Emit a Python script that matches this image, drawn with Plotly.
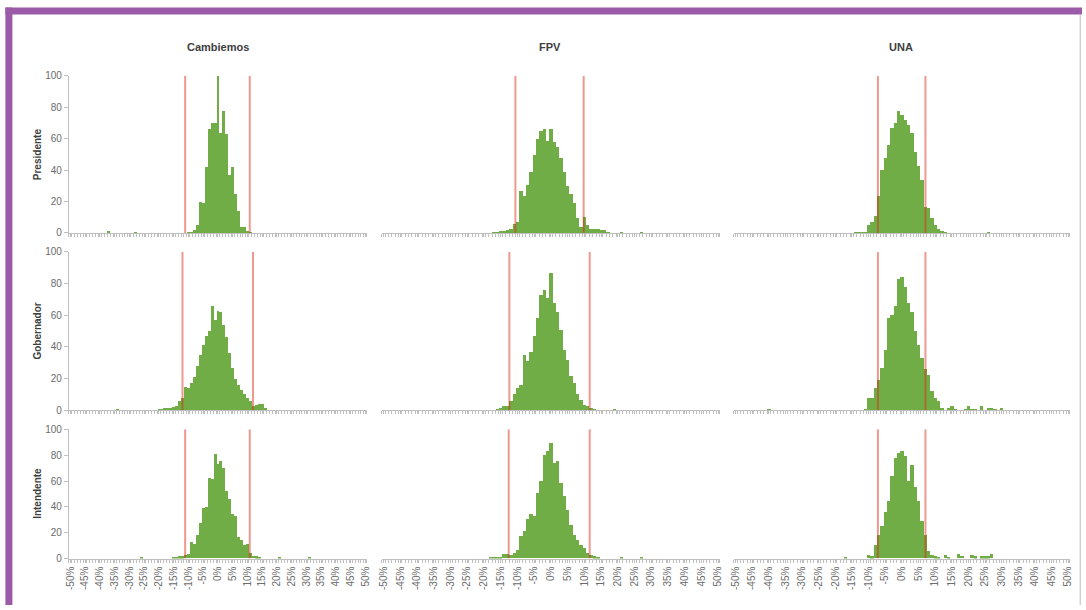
import plotly.graph_objects as go

W, H = 1086, 610

# ---------------- data ----------------
parties = ["Cambiemos", "FPV", "UNA"]
offices = ["Presidente", "Gobernador", "Intendente"]
bins = list(range(-50, 51))                      # 1% bins, -50% .. 50%
tick_vals = list(range(-50, 51, 5))
tick_text = [f"{v}%" for v in tick_vals]
y_ticks = [0, 20, 40, 60, 80, 100]

# Presidente
pres_camb_start = -10
pres_camb = [0.5, 1, 2, 5, 20, 19, 42, 66, 70, 70, 100, 64, 78, 63, 37, 42, 25, 14, 4, 4, 1.5, 1]
pres_camb_extra = {-37: 1.5, -28: 1}
pres_fpv_start = -17
pres_fpv = [0.5, 0.5, 1.5, 1.5, 2, 3, 6, 7, 27, 24, 31, 39, 50, 60, 65, 66, 59, 66, 58, 55, 48,
            39, 30, 25, 19, 9.5, 4, 10.6, 5, 3, 3, 2.5, 2, 2, 1]
pres_fpv_extra = {21: 0.5, 27: 0.5}
pres_una_start = -14
pres_una = [0.5, 0.3, 1, 1, 5, 7, 11, 24, 40, 48, 56, 67, 70, 78, 75, 72, 69, 64, 52, 43, 34,
            17, 16, 9.5, 5, 3, 1.5, 1]
pres_una_extra = {26: 0.5}

# Gobernador
gob_camb_start = -20
gob_camb = [1, 0.5, 1.5, 1.5, 1.5, 2, 2.5, 6, 8, 15, 14, 17, 21, 28, 35, 41, 47, 50, 66, 57, 63,
            62, 54, 46, 36, 27, 20, 16, 13, 10, 8, 5.7, 2.5, 3.6, 4, 4, 1.5]
gob_camb_extra = {-34: 1}
gob_fpv_start = -16
gob_fpv = [1, 1.5, 2.5, 2.5, 5.7, 10, 14, 16, 35, 31, 37, 47, 58, 73, 76, 71, 87, 68, 62, 51, 38,
           32, 21.5, 17, 10, 6.8, 3.6, 2.5, 1.5, 1]
gob_fpv_extra = {19: 0.5}
gob_una_start = -11
gob_una = [0.5, 8, 8, 14, 19, 27, 38, 58, 60, 66, 83, 84, 78, 68, 62, 50, 41, 33, 26, 22, 12, 8,
           5.7, 1.5]
gob_una_extra = {-40: 0.5, 14: 1.5, 15: 2.5, 16: 1, 19: 0.5, 20: 2.5, 21: 1, 22: 1, 24: 2.5,
                 26: 1.5, 27: 1.5, 28: 1, 30: 1.5}

# Intendente
int_camb_start = -15
int_camb = [0.8, 0.8, 1.5, 1.5, 2.8, 3, 12.4, 11, 18, 27, 39, 40, 62, 61, 81, 73, 75, 70, 52, 46,
            34, 33, 16.5, 14, 10, 11, 4.4, 1.8, 1.5, 0.5]
int_camb_extra = {-26: 0.5, 21: 0.5, 31: 0.5}
int_fpv_start = -18
int_fpv = [0.5, 0.5, 0.3, 0.3, 3.4, 3.4, 2.8, 4, 6.7, 17, 21, 30, 34, 32.5, 50.6, 59.7, 80, 83, 89,
           74, 75, 58, 48, 37.7, 26, 18, 14.5, 10.6, 8, 4, 2.8, 1.5, 1]
int_fpv_extra = {21: 0.5, 27: 0.5}
int_una_start = -10
int_una = [2.8, 1.5, 10.6, 18, 25, 36, 44, 63.6, 77.8, 81.7, 83, 79, 60, 72, 55, 44, 29, 18, 5.4,
           2.8, 1.5, 0.5]
int_una_extra = {-17: 0.5, 13: 2.8, 14: 1, 17: 3.6, 18: 2, 21: 2.8, 22: 1.5, 24: 1.5, 25: 1.5,
                 26: 1.5, 27: 3.4}

# red reference lines (low, high) in %
ci_pres = [(-11.1, 10.8), (-10.6, 9.8), (-7.2, 7.1)]
ci_gob = [(-12.0, 11.9), (-12.4, 11.6), (-7.2, 7.1)]
ci_int = [(-11.1, 10.8), (-12.6, 11.6), (-7.2, 7.1)]

panels = [
    [(pres_camb_start, pres_camb, pres_camb_extra), (pres_fpv_start, pres_fpv, pres_fpv_extra),
     (pres_una_start, pres_una, pres_una_extra)],
    [(gob_camb_start, gob_camb, gob_camb_extra), (gob_fpv_start, gob_fpv, gob_fpv_extra),
     (gob_una_start, gob_una, gob_una_extra)],
    [(int_camb_start, int_camb, int_camb_extra), (int_fpv_start, int_fpv, int_fpv_extra),
     (int_una_start, int_una, int_una_extra)],
]
cis = [ci_pres, ci_gob, ci_int]


def build(start, run, extra):
    vals = {b: 0 for b in bins}
    for i, v in enumerate(run):
        vals[start + i] = v
    for b, v in extra.items():
        vals[b] = v
    return [vals[b] for b in bins]


# ---------------- layout (target pixels in the photographed image) ----------------
# the photographed page is slightly inset/scaled; map target pixels to page pixels
SX, OX = 0.9927, 3.6
SY, OY = 0.980, 5.5


def PX(t):
    return (t - OX) / SX / W


def PY(t):
    return 1 - (t - OY) / SY / H


col_px = [(68.5, 366.5), (381.5, 719.5), (733.5, 1069.5)]
row_px = [(75, 232), (251, 409), (428, 557)]
col_title_x = [218, 550, 901]
row_title_y = [153, 330, 492]

GREEN = "#70AD47"
RED = "rgba(220,40,20,0.48)"
AXIS = "#BFBFBF"
TXT = "#6B6B6B"
FONT = "Liberation Sans Narrow, Liberation Sans, Arial, sans-serif"
PURPLE = "#9C5BA8"

fig = go.Figure()
layout = dict(
    width=W, height=H, margin=dict(l=0, r=0, t=0, b=0, pad=0),
    paper_bgcolor="white", plot_bgcolor="white", bargap=0, showlegend=False,
    font=dict(family=FONT, color=TXT, size=10),
)

shapes = []
annotations = []

for r in range(3):
    for c in range(3):
        k = r * 3 + c
        sfx = "" if k == 0 else str(k + 1)
        start, run, extra = panels[r][c]
        fig.add_trace(go.Bar(
            x=bins, y=build(start, run, extra), width=1,
            xaxis="x" + sfx, yaxis="y" + sfx,
            marker=dict(color=GREEN, line=dict(width=0)),
            hoverinfo="skip", showlegend=False,
        ))
        x0, x1 = col_px[c]
        yt, yb = row_px[r]
        layout["xaxis" + sfx] = dict(
            domain=[PX(x0), PX(x1)], range=[-50.5, 50.5], anchor="y" + sfx,
            showgrid=False, zeroline=False, showline=True, linecolor=AXIS, linewidth=1,
            tickmode="array", tickvals=tick_vals, ticktext=tick_text,
            ticks="outside", ticklen=3, tickcolor=AXIS,
            showticklabels=(r == 2), tickangle=-90,
            tickfont=dict(family=FONT, size=10, color=TXT),
            minor=dict(tickmode="linear", tick0=-50.5, dtick=1, ticks="outside",
                       ticklen=3, tickcolor=AXIS),
            fixedrange=True,
        )
        layout["yaxis" + sfx] = dict(
            domain=[PY(yb), PY(yt)], range=[0, 100], anchor="x" + sfx,
            showgrid=False, zeroline=False,
            showline=(c == 0), linecolor=AXIS, linewidth=1,
            tickvals=y_ticks, ticks="outside" if c == 0 else "", ticklen=4, tickcolor=AXIS,
            showticklabels=(c == 0), tickfont=dict(family=FONT, size=10, color=TXT),
            fixedrange=True,
        )
        for v in cis[r][c]:
            shapes.append(dict(type="line", xref="x" + sfx, yref="y" + sfx,
                               x0=v, x1=v, y0=0, y1=100,
                               line=dict(color=RED, width=2), layer="above"))

for c, name in enumerate(parties):
    annotations.append(dict(xref="paper", yref="paper", x=PX(col_title_x[c]), y=PY(46),
                            text=f"<b>{name}</b>", showarrow=False,
                            font=dict(family=FONT, size=11, color="#404040"),
                            xanchor="center", yanchor="middle"))
for r, name in enumerate(offices):
    annotations.append(dict(xref="paper", yref="paper", x=PX(37), y=PY(row_title_y[r]),
                            text=f"<b>{name}</b>", showarrow=False, textangle=-90,
                            font=dict(family=FONT, size=10, color="#404040"),
                            xanchor="center", yanchor="middle"))

# purple frame + right grey edge
shapes.append(dict(type="rect", xref="paper", yref="paper", x0=PX(5), x1=1, y0=PY(14),
                   y1=PY(7), fillcolor=PURPLE, line=dict(width=0), layer="above"))
shapes.append(dict(type="rect", xref="paper", yref="paper", x0=PX(5), x1=PX(12), y0=0,
                   y1=PY(7), fillcolor=PURPLE, line=dict(width=0), layer="above"))
shapes.append(dict(type="line", xref="paper", yref="paper", x0=PX(1080), x1=PX(1080), y0=0,
                   y1=PY(14), line=dict(color="#D0D0D0", width=1.5), layer="above"))

layout["shapes"] = shapes
layout["annotations"] = annotations
fig.update_layout(**layout)

fig.write_html(
    "out.html",
    config={"displayModeBar": False},
    post_script="document.body.style.margin='0';document.body.style.overflow='hidden';",
)
